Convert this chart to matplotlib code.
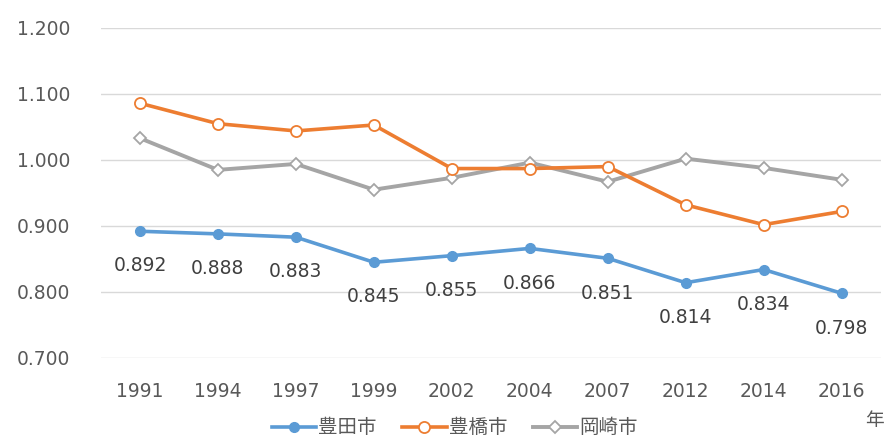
import numpy as np
import matplotlib
matplotlib.use("Agg")
import matplotlib.pyplot as plt

plt.rcParams['font.family'] = ['DejaVu Sans', 'Noto Sans CJK JP']

years = ['1991', '1994', '1997', '1999', '2002', '2004', '2007', '2012', '2014', '2016']
toyota = [0.892, 0.888, 0.883, 0.845, 0.855, 0.866, 0.851, 0.814, 0.834, 0.798]
toyohashi = [1.086, 1.055, 1.044, 1.053, 0.987, 0.987, 0.990, 0.932, 0.902, 0.922]
okazaki = [1.033, 0.985, 0.994, 0.955, 0.973, 0.996, 0.967, 1.002, 0.988, 0.970]
yticks = [0.7, 0.8, 0.9, 1.0, 1.1, 1.2]

text_col = '#595959'
fs = 13.5
fig = plt.figure(figsize=(8.88, 4.48), dpi=100)
ax = fig.add_axes([0.1137, 0.201, 0.878, 0.7365])

x = np.arange(len(years))
ax.plot(x, toyota, color='#5B9BD5', lw=2.6, marker='o', ms=7,
        mfc='#5B9BD5', mec='#5B9BD5', label='豊田市', zorder=5)
ax.plot(x, toyohashi, color='#ED7D31', lw=2.6, marker='o', ms=8,
        mfc='white', mec='#ED7D31', mew=1.3, label='豊橋市', zorder=4)
ax.plot(x, okazaki, color='#A5A5A5', lw=2.8, marker='D', ms=6.5,
        mfc='white', mec='#A5A5A5', mew=1.3, label='岡崎市', zorder=3)

for xi, v in zip(x, toyota):
    ax.annotate(f'{v:.3f}', (xi, v), xytext=(0, -25), textcoords='offset points',
                ha='center', va='center', fontsize=fs, color='#404040')

ax.set_xlim(-0.5, len(years) - 0.5)
ax.set_ylim(0.7, 1.2)
ax.set_yticks(yticks)
ax.set_yticklabels([f'{t:.3f}' for t in yticks])
ax.set_xticks(x)
ax.set_xticklabels(years)
ax.tick_params(axis='y', length=0, pad=22, labelsize=fs, labelcolor=text_col)
ax.tick_params(axis='x', length=0, pad=17, labelsize=fs, labelcolor=text_col)
ax.grid(axis='y', color='#D9D9D9', lw=1)
ax.set_axisbelow(True)
for s in ax.spines.values():
    s.set_visible(False)

fig.text(0.985, 0.062, '年', ha='center', va='center', fontsize=fs, color=text_col)

fig.legend(loc='center', bbox_to_anchor=(0.512, 0.045), ncol=3, frameon=False,
           fontsize=14, labelcolor=text_col, handlelength=2.3, handletextpad=0.1,
           columnspacing=1.3)

fig.savefig('out.png', dpi=100)
